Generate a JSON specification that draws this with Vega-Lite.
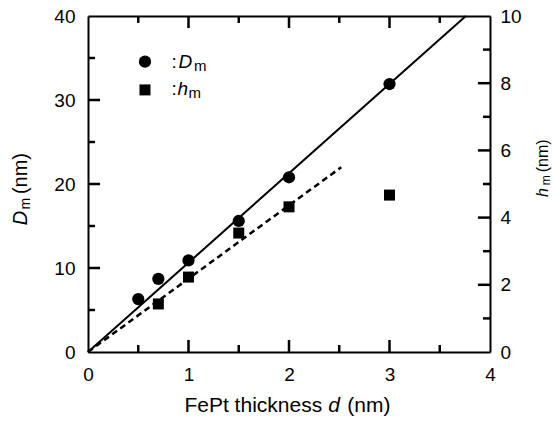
{
  "$schema": "https://vega.github.io/schema/vega-lite/v6.json",
  "autosize": "none",
  "width": 402,
  "height": 336,
  "padding": {"left": 88, "top": 16, "right": 63, "bottom": 70},
  "background": "white",
  "config": {
    "view": {"stroke": null},
    "axis": {
      "domainColor": "black", "domainWidth": 2,
      "labelFont": "Liberation Sans", "labelFontSize": 19, "labelColor": "black",
      "title": null, "labelFlush": false, "ticks": false, "grid": false
    },
    "text": {"font": "Liberation Sans", "color": "black"}
  },
  "datasets": {
    "Dm": [
      {"d": 0.5, "D": 6.3}, {"d": 0.7, "D": 8.7}, {"d": 1, "D": 10.9},
      {"d": 1.5, "D": 15.6}, {"d": 2, "D": 20.8}, {"d": 3, "D": 31.9}
    ],
    "hm": [
      {"d": 0.7, "h": 1.43}, {"d": 1, "h": 2.23}, {"d": 1.5, "h": 3.54},
      {"d": 2, "h": 4.32}, {"d": 3, "h": 4.67}
    ],
    "fitD": [{"d": 0, "D": 0}, {"d": 3.76, "D": 40}],
    "fith": [{"d": 0, "h": 0}, {"d": 2.52, "h": 5.5}],
    "ticksD": [
      {"x": 1, "x2": 1, "y": 0, "y2": 1.43}, {"x": 2, "x2": 2, "y": 0, "y2": 1.43}, {"x": 3, "x2": 3, "y": 0, "y2": 1.43},
      {"x": 0.5, "x2": 0.5, "y": 0, "y2": 0.83}, {"x": 1.5, "x2": 1.5, "y": 0, "y2": 0.83}, {"x": 2.5, "x2": 2.5, "y": 0, "y2": 0.83}, {"x": 3.5, "x2": 3.5, "y": 0, "y2": 0.83},
      {"x": 1, "x2": 1, "y": 40, "y2": 38.57}, {"x": 2, "x2": 2, "y": 40, "y2": 38.57}, {"x": 3, "x2": 3, "y": 40, "y2": 38.57},
      {"x": 0.5, "x2": 0.5, "y": 40, "y2": 39.17}, {"x": 1.5, "x2": 1.5, "y": 40, "y2": 39.17}, {"x": 2.5, "x2": 2.5, "y": 40, "y2": 39.17}, {"x": 3.5, "x2": 3.5, "y": 40, "y2": 39.17},
      {"x": 0, "x2": 0.12, "y": 10, "y2": 10}, {"x": 0, "x2": 0.12, "y": 20, "y2": 20}, {"x": 0, "x2": 0.12, "y": 30, "y2": 30},
      {"x": 0, "x2": 0.07, "y": 5, "y2": 5}, {"x": 0, "x2": 0.07, "y": 15, "y2": 15}, {"x": 0, "x2": 0.07, "y": 25, "y2": 25}, {"x": 0, "x2": 0.07, "y": 35, "y2": 35}
    ],
    "ticksH": [
      {"x": 4, "x2": 3.88, "y": 2, "y2": 2}, {"x": 4, "x2": 3.88, "y": 4, "y2": 4}, {"x": 4, "x2": 3.88, "y": 6, "y2": 6}, {"x": 4, "x2": 3.88, "y": 8, "y2": 8},
      {"x": 4, "x2": 3.93, "y": 1, "y2": 1}, {"x": 4, "x2": 3.93, "y": 3, "y2": 3}, {"x": 4, "x2": 3.93, "y": 5, "y2": 5}, {"x": 4, "x2": 3.93, "y": 7, "y2": 7}, {"x": 4, "x2": 3.93, "y": 9, "y2": 9}
    ]
  },
  "resolve": {"scale": {"y": "independent"}, "axis": {"x": "independent", "y": "independent"}},
  "layer": [
    {
      "data": {"name": "Dm"},
      "mark": {"type": "point", "shape": "circle", "filled": true, "color": "black", "size": 150, "opacity": 1},
      "encoding": {
        "x": {"field": "d", "type": "quantitative", "scale": {"domain": [0, 4]},
              "axis": {"orient": "bottom", "values": [0, 1, 2, 3, 4], "labelPadding": 13, "format": "d"}},
        "y": {"field": "D", "type": "quantitative", "scale": {"domain": [0, 40]},
              "axis": {"orient": "left", "values": [0, 10, 20, 30, 40], "labelPadding": 13, "format": "d"}}
      }
    },
    {
      "data": {"name": "hm"},
      "mark": {"type": "point", "shape": "square", "filled": true, "color": "black", "size": 121, "opacity": 1},
      "encoding": {
        "x": {"field": "d", "type": "quantitative", "scale": {"domain": [0, 4]},
              "axis": {"orient": "top", "values": [0, 4], "labels": false}},
        "y": {"field": "h", "type": "quantitative", "scale": {"domain": [0, 10]},
              "axis": {"orient": "right", "values": [0, 2, 4, 6, 8, 10], "labelPadding": 10, "format": "d"}}
      }
    },
    {
      "data": {"name": "fitD"},
      "mark": {"type": "line", "color": "black", "strokeWidth": 2},
      "encoding": {
        "x": {"field": "d", "type": "quantitative", "scale": {"domain": [0, 4]}, "axis": null},
        "y": {"field": "D", "type": "quantitative", "scale": {"domain": [0, 40]}, "axis": null}
      }
    },
    {
      "data": {"name": "fith"},
      "mark": {"type": "line", "color": "black", "strokeWidth": 2.5, "strokeDash": [6, 4]},
      "encoding": {
        "x": {"field": "d", "type": "quantitative", "scale": {"domain": [0, 4]}, "axis": null},
        "y": {"field": "h", "type": "quantitative", "scale": {"domain": [0, 10]}, "axis": null}
      }
    },
    {
      "data": {"name": "ticksD"},
      "mark": {"type": "rule", "color": "black", "strokeWidth": 2.5, "opacity": 1},
      "encoding": {
        "x": {"field": "x", "type": "quantitative", "scale": {"domain": [0, 4]}, "axis": null},
        "x2": {"field": "x2"},
        "y": {"field": "y", "type": "quantitative", "scale": {"domain": [0, 40]}, "axis": null},
        "y2": {"field": "y2"}
      }
    },
    {
      "data": {"name": "ticksH"},
      "mark": {"type": "rule", "color": "black", "strokeWidth": 2.5, "opacity": 1},
      "encoding": {
        "x": {"field": "x", "type": "quantitative", "scale": {"domain": [0, 4]}, "axis": null},
        "x2": {"field": "x2"},
        "y": {"field": "y", "type": "quantitative", "scale": {"domain": [0, 10]}, "axis": null},
        "y2": {"field": "y2"}
      }
    },
    {
      "data": {"values": [{"x": 0.567, "y": 34.56}]},
      "mark": {"type": "point", "shape": "circle", "filled": true, "color": "black", "size": 150, "opacity": 1},
      "encoding": {
        "x": {"field": "x", "type": "quantitative", "scale": {"domain": [0, 4]}, "axis": null},
        "y": {"field": "y", "type": "quantitative", "scale": {"domain": [0, 40]}, "axis": null}
      }
    },
    {
      "data": {"values": [{"x": 0.567, "y": 31.2}]},
      "mark": {"type": "point", "shape": "square", "filled": true, "color": "black", "size": 121, "opacity": 1},
      "encoding": {
        "x": {"field": "x", "type": "quantitative", "scale": {"domain": [0, 4]}, "axis": null},
        "y": {"field": "y", "type": "quantitative", "scale": {"domain": [0, 40]}, "axis": null}
      }
    },
    {
      "data": {"values": [
        {"x": 0.83, "y": 33.8, "t": ":"}, {"x": 0.83, "y": 30.6, "t": ":"}
      ]},
      "mark": {"type": "text", "fontSize": 19, "align": "left", "baseline": "alphabetic"},
      "encoding": {
        "x": {"field": "x", "type": "quantitative", "scale": {"domain": [0, 4]}, "axis": null},
        "y": {"field": "y", "type": "quantitative", "scale": {"domain": [0, 40]}, "axis": null},
        "text": {"field": "t"}
      }
    },
    {
      "data": {"values": [
        {"x": 2.33, "y": -7.14, "t": "FePt thickness"}
      ]},
      "mark": {"type": "text", "fontSize": 21, "align": "right", "baseline": "alphabetic"},
      "encoding": {
        "x": {"field": "x", "type": "quantitative", "scale": {"domain": [0, 4]}, "axis": null},
        "y": {"field": "y", "type": "quantitative", "scale": {"domain": [0, 40]}, "axis": null},
        "text": {"field": "t"}
      }
    },
    {
      "data": {"values": [
        {"x": 2.58, "y": -7.14, "t": "(nm)"}
      ]},
      "mark": {"type": "text", "fontSize": 21, "align": "left", "baseline": "alphabetic"},
      "encoding": {
        "x": {"field": "x", "type": "quantitative", "scale": {"domain": [0, 4]}, "axis": null},
        "y": {"field": "y", "type": "quantitative", "scale": {"domain": [0, 40]}, "axis": null},
        "text": {"field": "t"}
      }
    },
    {
      "data": {"values": [
        {"x": 0.9, "y": 33.8, "t": "D"}, {"x": 0.89, "y": 30.6, "t": "h"}
      ]},
      "mark": {"type": "text", "fontSize": 19, "fontStyle": "italic", "align": "left", "baseline": "alphabetic"},
      "encoding": {
        "x": {"field": "x", "type": "quantitative", "scale": {"domain": [0, 4]}, "axis": null},
        "y": {"field": "y", "type": "quantitative", "scale": {"domain": [0, 40]}, "axis": null},
        "text": {"field": "t"}
      }
    },
    {
      "data": {"values": [
        {"x": 2.39, "y": -7.14, "t": "d"}
      ]},
      "mark": {"type": "text", "fontSize": 21, "fontStyle": "italic", "align": "left", "baseline": "alphabetic"},
      "encoding": {
        "x": {"field": "x", "type": "quantitative", "scale": {"domain": [0, 4]}, "axis": null},
        "y": {"field": "y", "type": "quantitative", "scale": {"domain": [0, 40]}, "axis": null},
        "text": {"field": "t"}
      }
    },
    {
      "data": {"values": [
        {"x": 1.055, "y": 33.45, "t": "m"}, {"x": 1.0, "y": 30.25, "t": "m"}
      ]},
      "mark": {"type": "text", "fontSize": 15, "align": "left", "baseline": "alphabetic"},
      "encoding": {
        "x": {"field": "x", "type": "quantitative", "scale": {"domain": [0, 4]}, "axis": null},
        "y": {"field": "y", "type": "quantitative", "scale": {"domain": [0, 40]}, "axis": null},
        "text": {"field": "t"}
      }
    },
    {
      "data": {"values": [
        {"x": -0.607, "y": 15.1, "t": "D", "s": 20},
        {"x": 4.58, "y": 18.45, "t": "h", "s": 16}
      ]},
      "mark": {"type": "text", "angle": 270, "align": "left", "baseline": "alphabetic", "fontStyle": "italic"},
      "encoding": {
        "x": {"field": "x", "type": "quantitative", "scale": {"domain": [0, 4]}, "axis": null},
        "y": {"field": "y", "type": "quantitative", "scale": {"domain": [0, 40]}, "axis": null},
        "text": {"field": "t"},
        "size": {"field": "s", "type": "quantitative", "scale": null}
      }
    },
    {
      "data": {"values": [
        {"x": -0.577, "y": 16.95, "t": "m", "s": 14},
        {"x": -0.607, "y": 18.8, "t": "(nm)", "s": 20},
        {"x": 4.60, "y": 19.85, "t": "m", "s": 12},
        {"x": 4.58, "y": 21.4, "t": "(nm)", "s": 16}
      ]},
      "mark": {"type": "text", "angle": 270, "align": "left", "baseline": "alphabetic"},
      "encoding": {
        "x": {"field": "x", "type": "quantitative", "scale": {"domain": [0, 4]}, "axis": null},
        "y": {"field": "y", "type": "quantitative", "scale": {"domain": [0, 40]}, "axis": null},
        "text": {"field": "t"},
        "size": {"field": "s", "type": "quantitative", "scale": null}
      }
    }
  ]
}
